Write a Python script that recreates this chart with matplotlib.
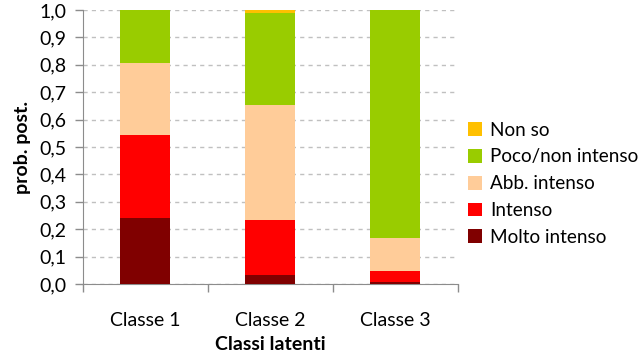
import numpy as np
import matplotlib.pyplot as plt

plt.rcParams['font.family'] = ['Lato', 'DejaVu Sans']

classi = ['Classe 1', 'Classe 2', 'Classe 3']
# stacked from bottom to top
molto_intenso = [0.24, 0.032, 0.008]
intenso = [0.304, 0.201, 0.041]
abb_intenso = [0.261, 0.421, 0.118]
poco_non_intenso = [0.195, 0.336, 0.833]
non_so = [0.0, 0.010, 0.0]

serie = [
    ('Molto intenso', molto_intenso, '#800000'),
    ('Intenso', intenso, '#FF0000'),
    ('Abb. intenso', abb_intenso, '#FFCC99'),
    ('Poco/non intenso', poco_non_intenso, '#99CC00'),
    ('Non so', non_so, '#FFC000'),
]

fs = 14

fig = plt.figure(figsize=(6.44, 3.54), dpi=100)
ax = fig.add_axes([82.7 / 644, 1 - 284 / 354, (458 - 82.7) / 644, (284 - 10) / 354])

x = np.arange(len(classi))
bottom = np.zeros(len(classi))
handles = []
for nome, valori, colore in serie:
    b = ax.bar(x, valori, 0.4, bottom=bottom, color=colore, label=nome, zorder=3)
    bottom += np.array(valori)
    handles.append(b)

ax.set_xlim(-0.5, 2.5)
ax.set_ylim(0, 1.0)
ticks = np.arange(0, 1.01, 0.1)
ax.set_yticks(ticks)
ax.set_yticklabels([f'{v:.1f}'.replace('.', ',') for v in ticks], fontsize=fs)
ax.set_xticks(x)
ax.set_xticklabels(classi, fontsize=fs)
ax.set_xticks([-0.5, 0.5, 1.5, 2.5], minor=True)
ax.tick_params(axis='x', which='major', length=0, pad=20)
ax.tick_params(axis='x', which='minor', length=6, color='#8c8c8c', width=1)
ax.tick_params(axis='y', length=6, color='#8c8c8c', width=1, pad=6)

ax.grid(axis='y', linestyle=(0, (3, 3)), color='#c0c0c0', linewidth=1, zorder=0)
for s in ['top', 'right']:
    ax.spines[s].set_visible(False)
ax.spines['left'].set_color('#8c8c8c')
ax.spines['bottom'].set_color('#8c8c8c')

ax.set_xlabel('Classi latenti', fontsize=fs, fontweight='bold', labelpad=5)
ax.set_ylabel('prob. post.', fontsize=fs, fontweight='bold', labelpad=6)

leg = ax.legend(handles[::-1], [s[0] for s in serie][::-1], loc='upper left',
                bbox_to_anchor=(460 / 644, 1 - 114 / 354), bbox_transform=fig.transFigure,
                frameon=False, fontsize=13.6, handlelength=0.75, handleheight=0.75,
                handletextpad=0.45, labelspacing=0.52, borderaxespad=0)

fig.savefig('out.png', dpi=100)
